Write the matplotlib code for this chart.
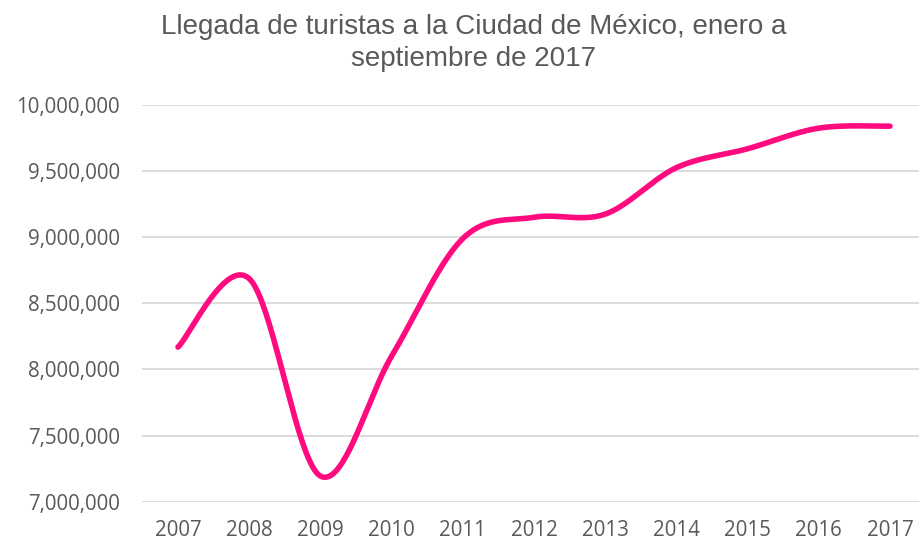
import numpy as np
import matplotlib
matplotlib.use("Agg")
import matplotlib.pyplot as plt
from matplotlib.ticker import FuncFormatter

years = ["2007", "2008", "2009", "2010", "2011", "2012", "2013", "2014", "2015", "2016", "2017"]
turistas = [8169000, 8687000, 7194000, 8100000, 8990000, 9151000, 9175000, 9526000, 9669000, 9825000, 9840000]
title = "Llegada de turistas a la Ciudad de México, enero a\nseptiembre de 2017"

def excel_smooth(x, y, n=40):
    x = np.asarray(x, float); y = np.asarray(y, float)
    px = np.concatenate([[x[0]], x, [x[-1]]])
    py = np.concatenate([[y[0]], y, [y[-1]]])
    xs, ys = [], []
    t = np.linspace(0, 1, n)
    for i in range(1, len(px) - 2):
        p0 = np.array([px[i-1], py[i-1]]); p1 = np.array([px[i], py[i]])
        p2 = np.array([px[i+1], py[i+1]]); p3 = np.array([px[i+2], py[i+2]])
        c1 = p1 + (p2 - p0) / 6.0
        c2 = p2 - (p3 - p1) / 6.0
        b = ((1-t)**3)[:, None]*p1 + (3*(1-t)**2*t)[:, None]*c1 + (3*(1-t)*t**2)[:, None]*c2 + (t**3)[:, None]*p2
        xs.append(b[:, 0]); ys.append(b[:, 1])
    return np.concatenate(xs), np.concatenate(ys)

fig = plt.figure(figsize=(9.2, 5.41), dpi=100)
left = 142.4 / 920
ax = fig.add_axes([left, (541 - 501.7) / 541, 1 - left, (501.7 - 105) / 541])

xi = np.arange(len(years))
sx, sy = excel_smooth(xi, turistas)
ax.plot(sx, sy, color="#FF0A7F", lw=4, solid_capstyle="round", zorder=3)

ax.set_xlim(-0.5, (920 - 142.4) / 71.2 - 0.5)
ax.set_ylim(7000000, 10000000)
ax.set_yticks(np.arange(7000000, 10000001, 500000))
ax.yaxis.set_major_formatter(FuncFormatter(lambda v, p: f"{int(v):,}"))
ax.set_xticks(xi)
ax.set_xticklabels(years)
ax.grid(axis="y", color="#D9D9D9", lw=1.3)
ax.set_axisbelow(True)
for s in ax.spines.values():
    s.set_visible(False)
ax.tick_params(length=0, colors="#595959", labelsize=14.8)
ax.tick_params(axis="y", pad=16)
ax.tick_params(axis="x", pad=13)
for lab in ax.get_xticklabels() + ax.get_yticklabels():
    lab.set_fontfamily("Open Sans")

fig.text(474 / 920, 1 - 43 / 541, title, ha="center", va="center", fontsize=20,
         color="#595959", family="Liberation Sans", linespacing=1.25)

fig.savefig("out.png", dpi=100)
